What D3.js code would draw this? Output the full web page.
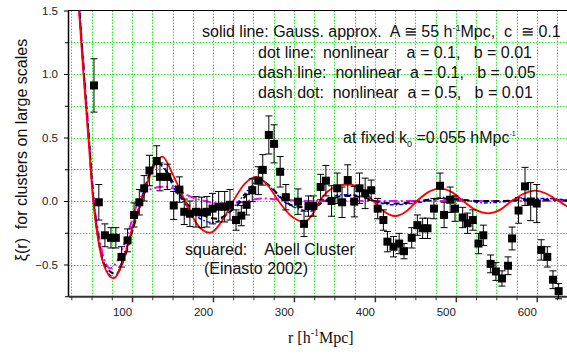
<!DOCTYPE html>
<html>
<head>
<meta charset="utf-8">
<script src="https://cdn.jsdelivr.net/npm/d3@7"></script>
<style>
    body { margin: 0; background: #fff; }
    svg { display: block; font-family: "Liberation Sans", Arial, sans-serif; }
    .pre { white-space: pre; }
</style>
</head>
<body>
<svg id="chart" width="567" height="354"></svg>
<script>
// Abell cluster data (Einasto 2002): r, xi, error
var clusterR = [53, 59, 66.5, 74, 80, 87, 94.5, 102.5, 109, 115, 121.5, 130.5, 134.5, 143.5, 151.5, 158.5,
    164.5, 171.5, 179, 186, 192.5, 199.5, 207, 214.5, 221, 228.5, 235, 241.5, 248.5, 256, 261.5, 269,
    275.5, 283, 290, 305, 312.5, 318, 324, 333, 339.5, 346.5, 353.5, 359.5, 366.5, 374.5, 381, 388,
    395.5, 403.5, 410.5, 415.5, 423, 430, 436, 445.5, 452.5, 459, 465, 473, 480.5, 485.5, 493, 499,
    508.5, 514.5, 521, 528, 534, 543, 549.5, 557, 564.5, 569.5, 577.5, 585.5, 592.5, 600, 605.5, 613,
    620, 627];
var clusterXi = [0.91, -0.01, -0.27, -0.29, -0.29, -0.44, -0.31, -0.11, -0.01, 0.10, 0.24, 0.315, 0.19, 0.19, -0.035, 0.09,
    -0.085, -0.10, -0.085, -0.09, -0.085, -0.06, -0.045, -0.045, -0.03, -0.15, -0.115, -0.03, 0.085, 0.16, 0.245, 0.52,
    0.45, 0.23, 0.03, -0.005, -0.18, -0.04, -0.04, 0.11, 0.16, 0.0, 0.10, -0.01, 0.165, -0.005, 0.10, 0.06,
    0.085, -0.06, -0.15, -0.32, -0.36, -0.335, -0.395, -0.29, -0.19, -0.215, -0.215, -0.06, 0.12, -0.11, 0.01, -0.06,
    -0.13, -0.175, -0.15, -0.335, -0.27, -0.495, -0.555, -0.61, -0.51, -0.295, -0.075, 0.115, -0.005, -0.02, -0.385, -0.44,
    -0.62, -0.71];
var clusterErr = [0.21, 0.14, 0.09, 0.08, 0.08, 0.08, 0.09, 0.095, 0.1, 0.1, 0.12, 0.12, 0.11, 0.1, 0.11, 0.1,
    0.1, 0.1, 0.12, 0.12, 0.12, 0.12, 0.12, 0.12, 0.12, 0.08, 0.08, 0.08, 0.09, 0.11, 0.12, 0.15,
    0.15, 0.12, 0.1, 0.1, 0.1, 0.08, 0.08, 0.1, 0.12, 0.12, 0.12, 0.12, 0.12, 0.12, 0.12, 0.12,
    0.08, 0.08, 0.08, 0.08, 0.08, 0.08, 0.06, 0.08, 0.08, 0.08, 0.08, 0.08, 0.1, 0.1, 0.1, 0.1,
    0.08, 0.08, 0.08, 0.08, 0.08, 0.07, 0.07, 0.06, 0.07, 0.09, 0.1, 0.15, 0.15, 0.15, 0.08, 0.08,
    0.07, 0.06];

// model curves, [r, xi]
var gaussLine = [[30, 2.0], [34.5, 1.5], [40, 1.0], [46, 0.5], [52, 0], [58, -0.3], [65, -0.5], [77, -0.61],
    [90, -0.45], [100, -0.22], [112, 0], [124, 0.23], [137.5, 0.35], [151, 0.2], [165.5, 0], [180, -0.18],
    [196, -0.25], [211, -0.16], [225, 0], [240, 0.14], [254, 0.19], [268, 0.12], [281, 0], [297, -0.12],
    [312.5, -0.163], [322, -0.115], [332, 0], [345, 0.09], [367, 0.13], [384, 0.09], [398, 0], [411, -0.08],
    [425, -0.118], [439, -0.08], [452, 0], [466, 0.07], [480.5, 0.1], [495, 0.07], [509, 0], [524, -0.068],
    [540, -0.097], [555, -0.068], [569, 0], [584, 0.057], [598, 0.081], [612, 0.057], [627, 0], [641, -0.053],
    [655, -0.075]];
var dotLine = [[30, 1.95], [35, 1.5], [40.5, 1.0], [46.5, 0.5], [52.5, 0], [58.5, -0.3], [65, -0.5], [78, -0.6],
    [90, -0.43], [101, -0.2], [111, 0], [121, 0.2], [131, 0.3], [142, 0.23], [152, 0.1], [163, 0], [180, -0.12],
    [200, -0.17], [218, -0.1], [232, 0], [245, 0.1], [258, 0.17], [272, 0.1], [287, 0], [305, -0.06], [320, -0.08],
    [337, 0], [360, 0.05], [382, 0.04], [400, 0], [420, -0.03], [445, -0.02], [465, 0], [488, 0.03], [510, 0.01],
    [535, -0.015], [560, -0.005], [585, 0.02], [610, 0.02], [645, 0]];
var dashLine = [[30, 1.95], [35, 1.5], [40.5, 1.0], [46.5, 0.5], [52.5, 0], [58.5, -0.3], [66, -0.5], [80, -0.575],
    [92, -0.42], [102, -0.2], [112, 0], [121, 0.2], [131, 0.31], [142, 0.24], [153, 0.12], [165, 0], [185, -0.1],
    [205, -0.14], [222, -0.08], [235, 0], [248, 0.1], [260, 0.16], [273, 0.1], [285, 0.02], [300, -0.04],
    [318, -0.05], [340, 0], [362, 0.04], [385, 0.03], [405, -0.01], [430, -0.02], [455, 0], [480, 0.02],
    [505, 0.01], [530, 0], [560, 0], [590, 0.01], [620, 0.01], [645, 0]];
var dashDotLine = [[30, 1.9], [35, 1.5], [41, 1.0], [47, 0.5], [53, 0], [60, -0.3], [66, -0.47], [73, -0.53],
    [82, -0.47], [95, -0.25], [108, 0], [122, 0.09], [139, 0.113], [155, 0.09], [170, 0.04], [190, 0],
    [210, -0.02], [235, -0.01], [260, 0.02], [285, 0.01], [320, 0], [360, 0], [645, 0]];

var xMajor = [100, 200, 300, 400, 500, 600];
var xMinor = d3.range(25, 626, 25);
var yMajor = [-0.5, 0.0, 0.5, 1.0, 1.5];
var yMinor = [-0.75, -0.5, -0.25, 0, 0.25, 0.5, 0.75, 1.0, 1.25, 1.5];

(function () {
    var svg = d3.select("#chart");
    var pLeft = 68, pRight = 574, pTop = 10.5, pBottom = 296.25;

    var x = d3.scaleLinear().domain([20.9, 646]).range([pLeft, pRight]);
    var y = d3.scaleLinear().domain([-0.75, 1.5]).range([pBottom, pTop]);

    svg.append("defs").append("clipPath").attr("id", "plotClip")
        .append("rect").attr("x", pLeft).attr("y", pTop)
        .attr("width", pRight - pLeft).attr("height", pBottom - pTop);

    // green dotted grid
    var grid = svg.append("g").attr("stroke", "#22ee22").attr("stroke-width", 1).attr("stroke-dasharray", "1.5,1.5");
    grid.selectAll("line.v").data(xMinor).enter().append("line")
        .attr("x1", function (d) { return Math.round(x(d)) + 0.5; })
        .attr("x2", function (d) { return Math.round(x(d)) + 0.5; })
        .attr("y1", pTop).attr("y2", pBottom);
    grid.selectAll("line.h").data(yMinor.filter(function (d) { return d > -0.75 && d < 1.5; })).enter().append("line")
        .attr("y1", function (d) { return Math.round(y(d)) + 0.5; })
        .attr("y2", function (d) { return Math.round(y(d)) + 0.5; })
        .attr("x1", pLeft).attr("x2", pRight);

    // axes
    var xAxis = svg.append("g").attr("transform", "translate(0," + pBottom + ")")
        .call(d3.axisBottom(x).tickValues(xMajor).tickSize(6).tickSizeOuter(0).tickFormat(d3.format("d")));
    xAxis.select(".domain").attr("stroke", "#333").attr("stroke-width", 2);
    xAxis.selectAll(".tick line").attr("stroke", "#333").attr("stroke-width", 1.5);
    xAxis.selectAll(".tick text").attr("dx", -10).attr("dy", "0.9em")
        .attr("font-size", 11.5).attr("font-family", "Liberation Sans, Arial, sans-serif").attr("fill", "#222");
    svg.append("g").attr("transform", "translate(0," + pBottom + ")")
        .call(d3.axisBottom(x).tickValues(xMinor.filter(function (d) { return d % 100 !== 0; }))
            .tickSize(4).tickFormat(""))
        .call(function (g) { g.select(".domain").remove(); g.selectAll(".tick line").attr("stroke", "#333"); });

    var yAxis = svg.append("g").attr("transform", "translate(" + pLeft + ",0)")
        .call(d3.axisLeft(y).tickValues(yMajor).tickSize(4).tickSizeOuter(0).tickFormat(d3.format(".1f")));
    yAxis.select(".domain").attr("stroke", "#000").attr("stroke-width", 1.5);
    yAxis.selectAll(".tick text").attr("x", -10)
        .attr("font-size", 11.5).attr("font-family", "Liberation Sans, Arial, sans-serif").attr("fill", "#222");
    svg.append("g").attr("transform", "translate(" + pLeft + ",0)")
        .call(d3.axisLeft(y).tickValues([-0.75, -0.25, 0.25, 0.75, 1.25]).tickSize(3).tickFormat(""))
        .call(function (g) { g.select(".domain").remove(); });

    svg.append("line").attr("x1", pLeft).attr("x2", 567).attr("y1", pTop).attr("y2", pTop)
        .attr("stroke", "#000").attr("stroke-width", 1.2);

    var pts = clusterR.map(function (r, i) { return { r: r, v: clusterXi[i], e: clusterErr[i] }; });

    var lineGen = d3.line()
        .x(function (d) { return x(d[0]); })
        .y(function (d) { return y(d[1]); })
        .curve(d3.curveMonotoneX);

    var curves = svg.append("g").attr("clip-path", "url(#plotClip)").attr("fill", "none");
    curves.append("path").datum(dashDotLine).attr("d", lineGen)
        .attr("stroke", "#ff00ff").attr("stroke-width", 2).attr("stroke-dasharray", "9,3,2,3");
    curves.append("path").datum(dotLine).attr("d", lineGen)
        .attr("stroke", "#0000ff").attr("stroke-width", 1.5).attr("stroke-dasharray", "4,2,1.5,2");
    curves.append("path").datum(dashLine).attr("d", lineGen)
        .attr("stroke", "#000").attr("stroke-width", 2).attr("stroke-dasharray", "6,4");
    curves.append("path").datum(gaussLine).attr("d", lineGen)
        .attr("stroke", "#ff0000").attr("stroke-width", 1.8);

    // data points with error bars
    var bars = svg.append("g").attr("stroke", "#000").attr("stroke-width", 1);
    bars.selectAll("line.bar").data(pts).enter().append("line")
        .attr("x1", function (d) { return x(d.r); }).attr("x2", function (d) { return x(d.r); })
        .attr("y1", function (d) { return y(d.v + d.e); }).attr("y2", function (d) { return y(d.v - d.e); });
    bars.selectAll("line.capT").data(pts).enter().append("line")
        .attr("x1", function (d) { return x(d.r) - 3.5; }).attr("x2", function (d) { return x(d.r) + 3.5; })
        .attr("y1", function (d) { return y(d.v + d.e); }).attr("y2", function (d) { return y(d.v + d.e); });
    bars.selectAll("line.capB").data(pts).enter().append("line")
        .attr("x1", function (d) { return x(d.r) - 3.5; }).attr("x2", function (d) { return x(d.r) + 3.5; })
        .attr("y1", function (d) { return y(d.v - d.e); }).attr("y2", function (d) { return y(d.v - d.e); });

    svg.append("g").selectAll("rect").data(pts).enter().append("rect")
        .attr("x", function (d) { return x(d.r) - 4; })
        .attr("y", function (d) { return y(d.v) - 4; })
        .attr("width", 8).attr("height", 8).attr("fill", "#000");

    // annotations
    function addText(xp, yp, parts) {
        var t = svg.append("text").attr("class", "pre").attr("x", xp).attr("y", yp)
            .attr("font-size", 16).attr("fill", "#111");
        var shift = 0;
        parts.forEach(function (p) {
            if (typeof p === "string") {
                t.append("tspan").attr("dy", -shift).text(p);
                shift = 0;
            } else {
                t.append("tspan").attr("font-size", p.size || 9).attr("dy", p.dy - shift).text(p.t);
                shift = p.dy;
            }
        });
        return t;
    }

    addText(202, 37, ["solid line: Gauss. approx.  A \u2245 55 h", { t: "-1", dy: -6 }, "Mpc,  c  \u2245 0.1"]);
    addText(258, 58, ["dot line:  nonlinear    a = 0.1,   b = 0.01"]);
    addText(258, 78, ["dash line:  nonlinear  a = 0.1,   b = 0.05"]);
    addText(258, 98, ["dash dot:  nonlinear  a = 0.5,   b = 0.01"]);
    addText(343, 143, ["at fixed k", { t: "0", dy: 4 }, " =0.055 hMpc", { t: "-1", dy: -7, size: 7 }]);
    addText(185, 255, ["squared:    Abell Cluster"]);
    addText(204, 274, ["(Einasto 2002)"]);

    svg.append("text").attr("class", "pre")
        .attr("transform", "translate(27,150) rotate(-90)")
        .attr("text-anchor", "middle").attr("font-size", 16).attr("fill", "#111")
        .text("\u03be(r)  for clusters on large scales");

    var xt = svg.append("text").attr("x", 288).attr("y", 343)
        .attr("font-family", "Liberation Serif, Times New Roman, serif").attr("font-size", 16).attr("fill", "#111");
    xt.append("tspan").text("r [h");
    xt.append("tspan").attr("font-size", 10).attr("dy", -7).text("-1");
    xt.append("tspan").attr("dy", 7).text("Mpc]");
})();
</script>
</body>
</html>
